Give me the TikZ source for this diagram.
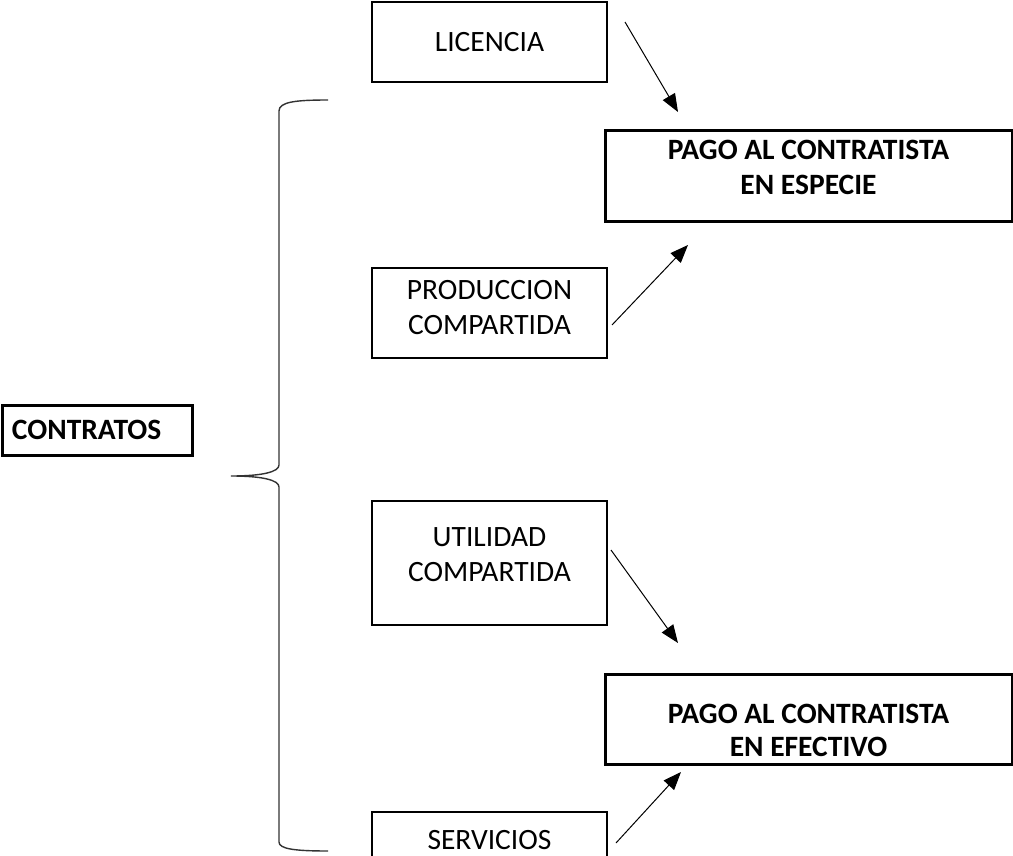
\documentclass[tikz,border=0pt]{standalone}
\usepackage{fontspec}
\setmainfont{Carlito}
\usetikzlibrary{arrows.meta}
\tikzset{
  txt/.style={font=\fontsize{29.5}{35}\selectfont, align=center, inner sep=0pt},
  boldtxt/.style={txt, font=\fontsize{29.5}{35}\selectfont\bfseries},
  plainbox/.style={txt, draw, line width=2pt, minimum width=235pt},
  paybox/.style={draw, line width=3pt, inner sep=0pt, minimum width=407pt},
  arr/.style={line width=1pt, -{Triangle[length=18pt,width=14pt]}},
  bracestyle/.style={line width=1.4pt, draw=black!80}
}
\begin{document}
\begin{tikzpicture}[x=1pt,y=-1pt]
\useasboundingbox (0,0) rectangle (1013,856);
% boxes
\node[plainbox, minimum height=80pt] (lic) at (489.5,42) {LICENCIA};
\node[plainbox, minimum height=90pt,
      label={[txt, yshift=5.5pt]center:{PRODUCCION\\COMPARTIDA}}] (prod) at (489.5,313) {};
\node[plainbox, minimum height=124pt,
      label={[txt, yshift=8.5pt]center:{UTILIDAD\\COMPARTIDA}}] (util) at (489.5,563) {};
\node[plainbox, minimum height=56pt] (serv) at (489.5,840) {SERVICIOS};
\node[paybox, minimum height=91pt,
      label={[boldtxt, yshift=9pt]center:{PAGO AL CONTRATISTA\\EN ESPECIE}}] (esp) at (808.5,176.5) {};
\node[paybox, minimum height=90pt,
      label={[boldtxt, font=\fontsize{29.5}{33}\selectfont\bfseries, yshift=-11pt]center:{PAGO AL CONTRATISTA\\EN EFECTIVO}}] (efe) at (808.5,719) {};
\node[boldtxt, draw, line width=3pt,
      text width=170pt, align=left, inner xsep=10pt, minimum height=50pt] (con) at (97,430) {CONTRATOS};
% brace
\draw[bracestyle] (328,100) .. controls (295,100) and (279,102) .. (279,111)
  -- (279,465) .. controls (279,472) and (262,476) .. (231,476)
  .. controls (262,476) and (279,480) .. (279,487)
  -- (279,842) .. controls (279,849) and (295,851) .. (328,851);
% arrow end points
\coordinate (a1s) at (625,22);  \coordinate (a1e) at (678,112);
\coordinate (a2s) at (612,325); \coordinate (a2e) at (688,245);
\coordinate (a3s) at (611,550); \coordinate (a3e) at (678,643);
\coordinate (a4s) at (616,843); \coordinate (a4e) at (681,772);
\draw[arr] (a1s) -- (a1e);
\draw[arr] (a2s) -- (a2e);
\draw[arr] (a3s) -- (a3e);
\draw[arr] (a4s) -- (a4e);
\end{tikzpicture}
\end{document}
